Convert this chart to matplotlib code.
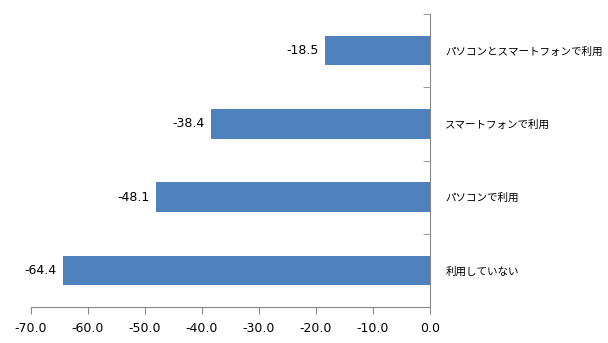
import matplotlib.pyplot as plt
import numpy as np

plt.rcParams['font.family'] = ['Noto Sans CJK JP', 'DejaVu Sans']

kategorie = ['パソコンとスマートフォンで利用', 'スマートフォンで利用', 'パソコンで利用', '利用していない']
wartosci = [-18.5, -38.4, -48.1, -64.4]

fig = plt.figure(figsize=(6.08, 3.43), dpi=100)
ax = fig.add_axes([31 / 608, 36 / 343, 399 / 608, 293 / 343])

poz = np.arange(len(kategorie))[::-1]
ax.barh(poz, wartosci, height=0.4, color='#4F81BD')

for p, w in zip(poz, wartosci):
    ax.text(w - 1.1, p, f'{w:.1f}', ha='right', va='center', fontsize=9,
            family='DejaVu Sans')

ax.set_xlim(-70, 0)
ax.set_ylim(-0.5, len(kategorie) - 0.5)
ax.set_xticks(np.arange(-70, 1, 10))
ax.set_xticklabels([f'{v:.1f}' for v in np.arange(-70, 1, 10)], fontsize=9,
                   family='DejaVu Sans')

# etykiety kategorii po prawej, kreski na granicach kategorii
ax.yaxis.tick_right()
ax.set_yticks(poz)
ax.set_yticklabels(kategorie, fontsize=7.6)
ax.set_yticks(np.arange(-0.5, len(kategorie), 1), minor=True)
ax.tick_params(axis='y', which='major', length=0, pad=11)
ax.tick_params(axis='y', which='minor', length=5, direction='in', color='#888888')
ax.tick_params(axis='x', length=5, color='#888888', pad=6)

for s in ['top', 'left']:
    ax.spines[s].set_visible(False)
for s in ['right', 'bottom']:
    ax.spines[s].set_color('#888888')

plt.savefig('out.png')
